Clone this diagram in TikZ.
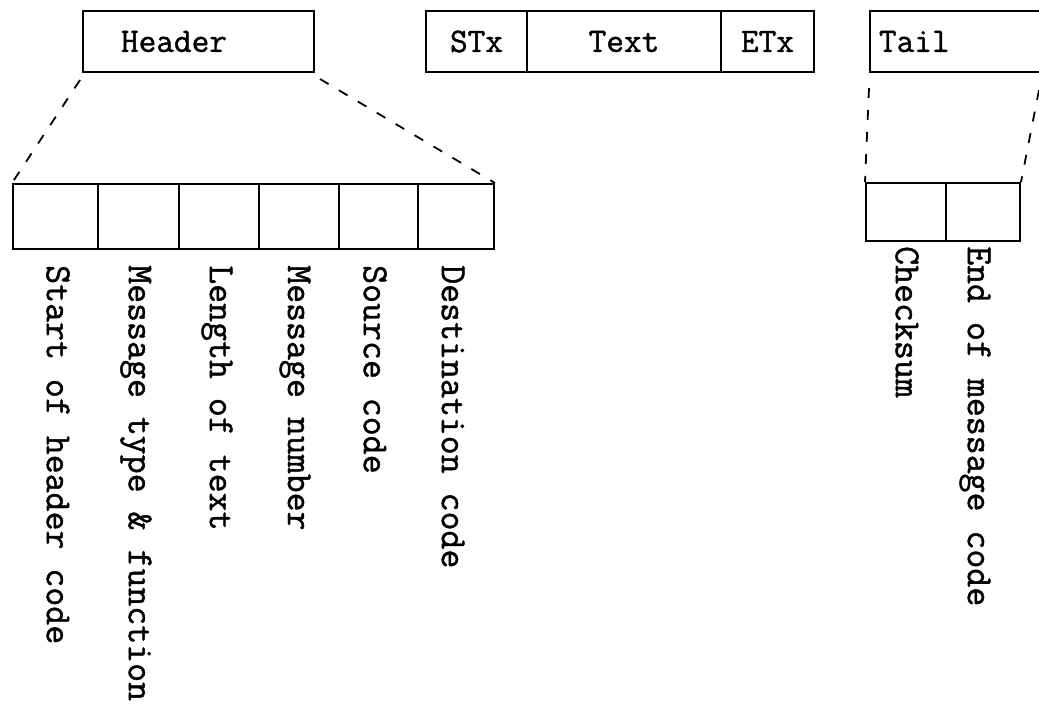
\documentclass[tikz,border=0pt]{standalone}
\usepackage{fontspec}
\setmonofont[FakeBold=1.2]{Latin Modern Mono}
\begin{document}
\begin{tikzpicture}[x=1pt,y=-1pt,
  txt/.style={font=\ttfamily\fontsize{34.3}{40}\selectfont},
  box/.style={draw, line width=2pt, inner ysep=0pt, minimum height=61pt, anchor=north west, txt},
  cell/.style={draw, line width=2pt, inner sep=0pt, anchor=north west},
  lbl/.style={rotate=-90, anchor=west, inner sep=0pt, font=\ttfamily\fontsize{36.8}{40}\selectfont},
  dsh/.style={line width=1.8pt, dash pattern=on 10pt off 12pt}]
\useasboundingbox (0,0) rectangle (1039,705);
% top row
\node[box, inner xsep=38pt, text width=155pt, align=left] (header) at (82,10) {Header};
\node[box, inner xsep=0pt, minimum width=101pt] (stx) at (425,10) {STx};
\node[box, inner xsep=0pt, minimum width=194pt] (text) at (526,10) {Text};
\node[box, inner xsep=0pt, minimum width=93pt] (etx) at (720,10) {ETx};
\node[box, inner xsep=9pt, text width=158pt, align=left] (tail) at (869,10) {Tail};
% header fields
\node[cell, minimum width=85pt, minimum height=65pt] (f1) at (12,183) {};
\node[cell, minimum width=81pt, minimum height=65pt] (f2) at (97,183) {};
\node[cell, minimum width=80pt, minimum height=65pt] (f3) at (178,183) {};
\node[cell, minimum width=80pt, minimum height=65pt] (f4) at (258,183) {};
\node[cell, minimum width=79pt, minimum height=65pt] (f5) at (338,183) {};
\node[cell, minimum width=76pt, minimum height=65pt] (f6) at (417,183) {};
% tail fields
\node[cell, minimum width=80pt, minimum height=58pt] (t1) at (865,182) {};
\node[cell, minimum width=74pt, minimum height=58pt] (t2) at (945,182) {};
% dashed expansion lines
\draw[dsh] ([shift={(-2pt,-7pt)}]header.south west) -- (f1.north west);
\draw[dsh] ([shift={(5pt,-6pt)}]header.south east) -- (f6.north east);
\draw[dsh] ([shift={(0pt,-15pt)}]tail.south west) -- (t1.north west);
\draw[dsh] ([shift={(-8pt,-17pt)}]tail.south east) -- (t2.north east);
% labels
\node[lbl] (l1) at (58,265) {Start of header code};
\node[lbl] (l2) at (136,265) {Message type \& function};
\node[lbl] (l3) at (217,265) {Length of text};
\node[lbl] (l4) at (295,265) {Message number};
\node[lbl] (l5) at (375,265) {Source code};
\node[lbl] (l6) at (453,265) {Destination code};
\node[lbl] (l7) at (907,246) {Checksum};
\node[lbl] (l8) at (975,246) {End of message code};
\end{tikzpicture}
\end{document}
